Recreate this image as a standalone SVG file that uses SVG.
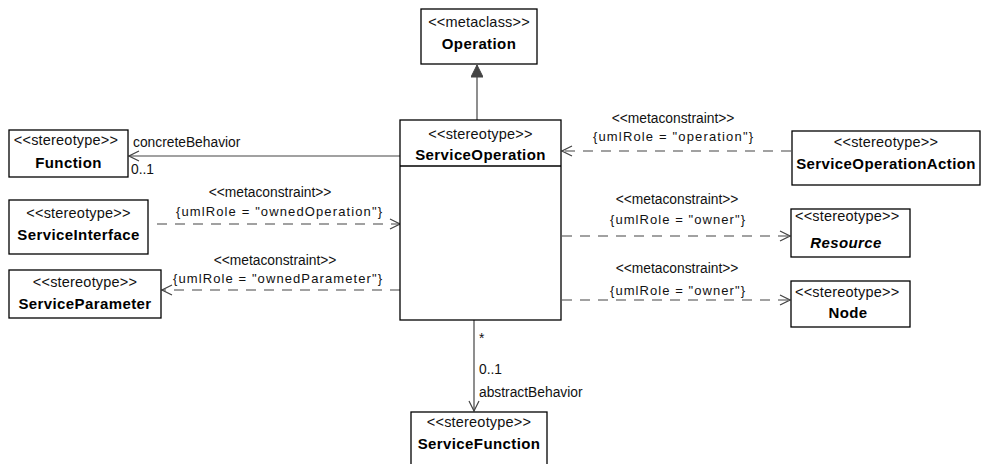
<svg xmlns="http://www.w3.org/2000/svg" width="982" height="464" viewBox="0 0 982 464">
<style>
.box{fill:#fff;stroke:#000;stroke-width:1.3}
.st{font-family:"Liberation Sans",Arial,sans-serif;font-size:14.5px;fill:#111;letter-spacing:0.2px}
.nm{font-family:"Liberation Sans",Arial,sans-serif;font-size:15px;font-weight:bold;fill:#000;letter-spacing:0.4px}
.lb{font-family:"Liberation Sans",Arial,sans-serif;font-size:13.8px;fill:#111}
.cs{font-family:"Liberation Sans",Arial,sans-serif;font-size:13px;fill:#111}
.c{text-anchor:middle}
.ln{fill:none;stroke:#444;stroke-width:1.2}
.dl{fill:none;stroke:#444;stroke-width:1.2;stroke-dasharray:10,8}
</style>
<defs>
<marker id="open" viewBox="0 0 12 12" refX="11" refY="6" markerWidth="12" markerHeight="12" markerUnits="userSpaceOnUse" orient="auto">
<path d="M1,1 L11,6 L1,11" fill="none" stroke="#444" stroke-width="1.2"/>
</marker>
<marker id="tri" viewBox="0 0 14 12" refX="13" refY="6" markerWidth="14" markerHeight="12" markerUnits="userSpaceOnUse" orient="auto">
<path d="M1,0 L13,6 L1,12 Z" fill="#444" stroke="#444" stroke-width="1"/>
</marker>
</defs>

<g id="connectors">
<path class="ln" d="M477,120 L477,65" marker-end="url(#tri)"/>
<path class="ln" d="M400,156 L129,156" marker-end="url(#open)"/>
<path class="dl" d="M157,224 L400,224" marker-end="url(#open)"/>
<path class="dl" d="M400,290 L162,290" marker-end="url(#open)"/>
<path class="dl" d="M791,151 L562,151" marker-end="url(#open)"/>
<path class="dl" d="M562,236 L790,236" marker-end="url(#open)"/>
<path class="dl" d="M562,300 L790,300" marker-end="url(#open)"/>
<path class="ln" d="M474,320 L474,411" marker-end="url(#open)"/>

<text class="lb" x="133" y="147">concreteBehavior</text>
<text class="lb" x="131" y="174">0..1</text>

<text class="lb c" x="270" y="197">&lt;&lt;metaconstraint&gt;&gt;</text>
<text class="cs" x="176" y="216" textLength="206" lengthAdjust="spacing">{umlRole = "ownedOperation"}</text>

<text class="lb c" x="275" y="265">&lt;&lt;metaconstraint&gt;&gt;</text>
<text class="cs" x="173" y="283" textLength="209" lengthAdjust="spacing">{umlRole = "ownedParameter"}</text>

<text class="lb c" x="673" y="123">&lt;&lt;metaconstraint&gt;&gt;</text>
<text class="cs" x="593" y="141" textLength="160" lengthAdjust="spacing">{umlRole = "operation"}</text>

<text class="lb c" x="677" y="204">&lt;&lt;metaconstraint&gt;&gt;</text>
<text class="cs" x="610" y="224" textLength="135" lengthAdjust="spacing">{umlRole = "owner"}</text>

<text class="lb c" x="677" y="273">&lt;&lt;metaconstraint&gt;&gt;</text>
<text class="cs" x="610" y="295" textLength="135" lengthAdjust="spacing">{umlRole = "owner"}</text>

<text class="lb" x="479" y="343">*</text>
<text class="lb" x="479" y="374">0..1</text>
<text class="lb" x="479" y="397">abstractBehavior</text>
</g>

<g id="Operation">
<rect class="box" x="421" y="9" width="116" height="55"/>
<text class="st c" x="479" y="27">&lt;&lt;metaclass&gt;&gt;</text>
<text class="nm c" x="479" y="49">Operation</text>
</g>

<g id="ServiceOperation">
<rect class="box" x="400" y="120" width="161" height="200"/>
<line x1="400" y1="166" x2="561" y2="166" stroke="#000" stroke-width="1.3"/>
<text class="st c" x="480.5" y="139">&lt;&lt;stereotype&gt;&gt;</text>
<text class="nm c" x="480.5" y="160">ServiceOperation</text>
</g>

<g id="Function">
<rect class="box" x="9" y="130" width="119" height="47"/>
<text class="st c" x="66" y="145">&lt;&lt;stereotype&gt;&gt;</text>
<text class="nm c" x="68.5" y="168">Function</text>
</g>

<g id="ServiceInterface">
<rect class="box" x="9" y="200" width="139" height="54"/>
<text class="st c" x="78.5" y="218">&lt;&lt;stereotype&gt;&gt;</text>
<text class="nm c" x="78.5" y="240">ServiceInterface</text>
</g>

<g id="ServiceParameter">
<rect class="box" x="9" y="270" width="152" height="48"/>
<text class="st c" x="85" y="287">&lt;&lt;stereotype&gt;&gt;</text>
<text class="nm c" x="85" y="309">ServiceParameter</text>
</g>

<g id="ServiceOperationAction">
<rect class="box" x="792" y="131" width="188" height="54"/>
<text class="st c" x="886" y="147">&lt;&lt;stereotype&gt;&gt;</text>
<text class="nm c" x="886" y="169">ServiceOperationAction</text>
</g>

<g id="Resource">
<rect class="box" x="791" y="209" width="119" height="48"/>
<text class="st" x="795" y="221">&lt;&lt;stereotype&gt;&gt;</text>
<text class="nm c" x="846" y="248" font-style="italic">Resource</text>
</g>

<g id="Node">
<rect class="box" x="791" y="281" width="119" height="46"/>
<text class="st" x="795" y="297">&lt;&lt;stereotype&gt;&gt;</text>
<text class="nm c" x="848" y="318">Node</text>
</g>

<g id="ServiceFunction">
<rect class="box" x="411" y="412" width="136" height="60"/>
<text class="st c" x="479" y="427">&lt;&lt;stereotype&gt;&gt;</text>
<text class="nm c" x="479" y="449">ServiceFunction</text>
</g>
</svg>
